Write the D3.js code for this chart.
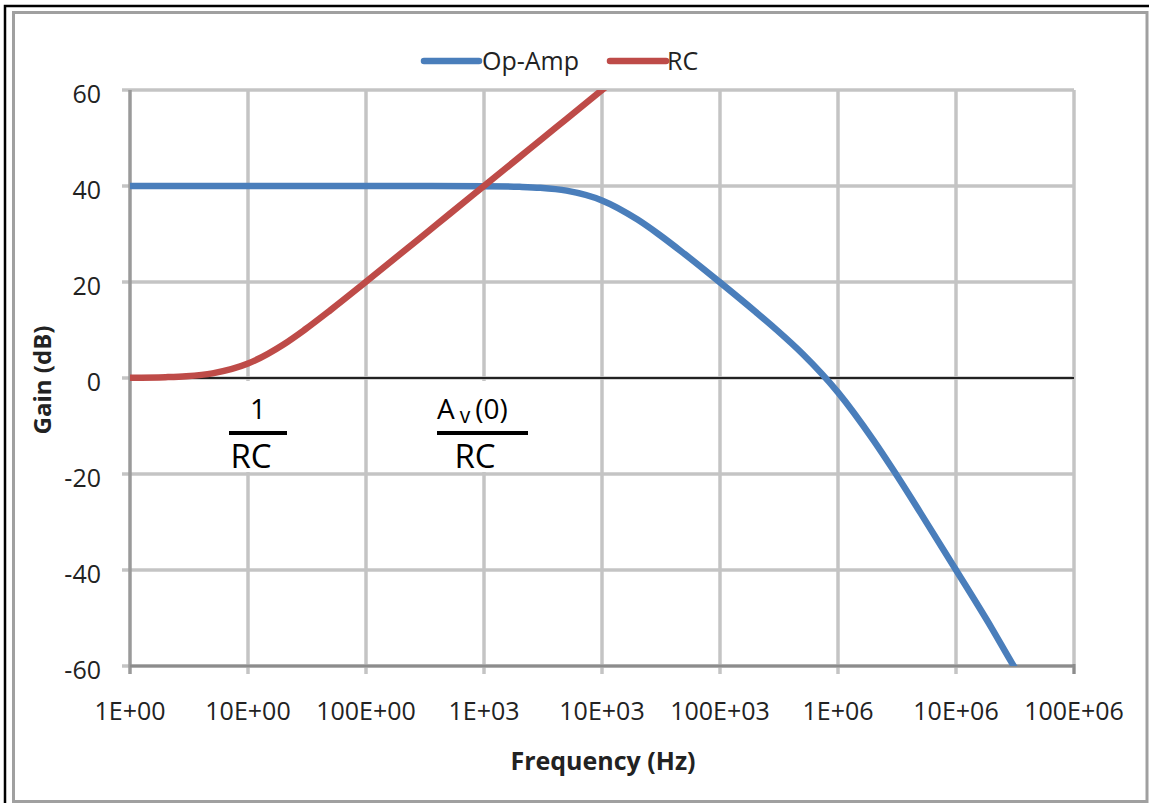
<!DOCTYPE html>
<html>
<head>
<meta charset="utf-8">
<script src="https://cdn.jsdelivr.net/npm/d3@7"></script>
<style>
  html, body { margin: 0; padding: 0; background: #fff; }
  svg { display: block; }
</style>
</head>
<body>
<script>
// ---- data ----
const seriesNames = ["Op-Amp", "RC"];
const opAmpFreq = [1, 10, 100, 1000, 2000, 3000, 5000, 1e4, 2e4, 3e4, 5e4, 1e5, 2e5, 3e5, 5e5, 1e6, 2e6, 3e6, 5e6, 1e7, 2e7, 3e7, 5e7];
const opAmpGain = [40, 40, 40, 39.96, 39.83, 39.63, 39.03, 36.99, 33.0, 30.0, 25.85, 19.92, 13.8, 10.08, 5.05, -3.0, -13.0, -19.5, -28.1, -40.0, -52.05, -59.5, -68.0];
const rcFreq = [1, 2, 3, 5, 10, 20, 30, 50, 100, 200, 300, 500, 1000, 2000, 3000, 5000, 1e4, 2e4];
const rcGain = [0.04, 0.17, 0.37, 0.97, 3.01, 6.99, 10.0, 14.15, 20.04, 26.03, 29.55, 33.98, 40.0, 46.02, 49.54, 53.98, 60.0, 66.02];
const xTickValues = [1, 10, 100, 1e3, 1e4, 1e5, 1e6, 1e7, 1e8];
const xTickLabels = ["1E+00", "10E+00", "100E+00", "1E+03", "10E+03", "100E+03", "1E+06", "10E+06", "100E+06"];
const yTickValues = [-60, -40, -20, 0, 20, 40, 60];
const xTitle = "Frequency (Hz)";
const yTitle = "Gain (dB)";

const colors = { "Op-Amp": "#4a7ebb", "RC": "#be4b48" };
const W = 1149, H = 803;
const plot = { left: 130, right: 1074, top: 90, bottom: 666 };
const font = "'Open Sans', 'Liberation Sans', sans-serif";

const svg = d3.select("body").append("svg").attr("width", W).attr("height", H);

// frame
svg.append("rect").attr("x", 13.5).attr("y", 12.5).attr("width", 1133.5).attr("height", 789)
  .attr("fill", "none").attr("stroke", "#a0a0a0").attr("stroke-width", 3);
svg.append("path").attr("d", `M5,${H} L5,6 L${W},6`).attr("fill", "none")
  .attr("stroke", "#000").attr("stroke-width", 2.5);

const x = d3.scaleLog().domain([1, 1e8]).range([plot.left, plot.right]);
const y = d3.scaleLinear().domain([-60, 60]).range([plot.bottom, plot.top]);

// gridlines
const g = svg.append("g");
g.selectAll(".vg").data(xTickValues.slice(1)).join("line")
  .attr("x1", d => x(d)).attr("x2", d => x(d))
  .attr("y1", plot.top).attr("y2", plot.bottom + 8)
  .attr("stroke", "#c4c4c4").attr("stroke-width", 3.5);
g.selectAll(".hg").data(yTickValues).join("line")
  .attr("x1", plot.left - 8).attr("x2", plot.right)
  .attr("y1", d => y(d)).attr("y2", d => y(d))
  .attr("stroke", "#c4c4c4").attr("stroke-width", 3.5);

// axes lines
svg.append("line").attr("x1", plot.left).attr("x2", plot.left)
  .attr("y1", plot.top).attr("y2", plot.bottom + 8)
  .attr("stroke", "#9a9a9a").attr("stroke-width", 3.5);
svg.append("line").attr("x1", plot.left).attr("x2", plot.right)
  .attr("y1", plot.bottom).attr("y2", plot.bottom)
  .attr("stroke", "#8c8c8c").attr("stroke-width", 3);
svg.append("line").attr("x1", plot.right).attr("x2", plot.right)
  .attr("y1", plot.bottom - 2).attr("y2", plot.bottom + 8)
  .attr("stroke", "#8c8c8c").attr("stroke-width", 3);

// zero line
svg.append("line").attr("x1", plot.left).attr("x2", plot.right)
  .attr("y1", y(0)).attr("y2", y(0))
  .attr("stroke", "#222").attr("stroke-width", 2);

// tick labels
svg.selectAll(".xl").data(xTickValues).join("text")
  .attr("x", d => x(d)).attr("y", 720)
  .attr("text-anchor", "middle")
  .attr("font-family", font).attr("font-size", 25).attr("fill", "#222")
  .text((d, i) => xTickLabels[i]);
svg.selectAll(".yl").data(yTickValues).join("text")
  .attr("x", 101).attr("y", d => y(d) + 13)
  .attr("text-anchor", "end")
  .attr("font-family", font).attr("font-size", 25).attr("fill", "#222")
  .text(d => d);

// axis titles
svg.append("text").attr("x", 603).attr("y", 770).attr("text-anchor", "middle")
  .attr("font-family", font).attr("font-weight", "bold").attr("font-size", 25).attr("fill", "#222")
  .text(xTitle);
svg.append("text").attr("transform", "translate(51,380) rotate(-90)").attr("text-anchor", "middle")
  .attr("font-family", font).attr("font-weight", "bold").attr("font-size", 24).attr("fill", "#222")
  .text(yTitle);

// clip
svg.append("clipPath").attr("id", "clip").append("rect")
  .attr("x", plot.left).attr("y", plot.top)
  .attr("width", plot.right - plot.left).attr("height", plot.bottom - plot.top);

const line = d3.line().x(d => x(d[0])).y(d => y(d[1])).curve(d3.curveMonotoneX);
const opData = opAmpFreq.map((f, i) => [f, opAmpGain[i]]);
const rcData = rcFreq.map((f, i) => [f, rcGain[i]]);

const lines = svg.append("g").attr("clip-path", "url(#clip)");
lines.append("path").datum(opData).attr("d", line)
  .attr("fill", "none").attr("stroke", colors["Op-Amp"]).attr("stroke-width", 6.5)
  .attr("stroke-linejoin", "round");
lines.append("path").datum(rcData).attr("d", line)
  .attr("fill", "none").attr("stroke", colors["RC"]).attr("stroke-width", 6.5)
  .attr("stroke-linejoin", "round");

// legend
const legend = [
  { name: seriesNames[0], x1: 424, x2: 479, tx: 482 },
  { name: seriesNames[1], x1: 610, x2: 666, tx: 667 }
];
legend.forEach(l => {
  svg.append("line").attr("x1", l.x1).attr("x2", l.x2).attr("y1", 61).attr("y2", 61)
    .attr("stroke", colors[l.name]).attr("stroke-width", 6.5).attr("stroke-linecap", "round");
  svg.append("text").attr("x", l.tx).attr("y", 70)
    .attr("font-family", font).attr("font-size", 25).attr("fill", "#222").text(l.name);
});

// annotations (fractions)
function fraction(x1, x2, rcx) {
  const a = svg.append("g");
  a.append("rect").attr("x", x1 - 1).attr("y", 381).attr("width", x2 - x1 + 2).attr("height", 91).attr("fill", "#fff");
  a.append("line").attr("x1", x1).attr("x2", x2).attr("y1", 433).attr("y2", 433)
    .attr("stroke", "#000").attr("stroke-width", 4);
  a.append("text").attr("x", rcx).attr("y", 468).attr("text-anchor", "middle")
    .attr("font-family", font).attr("font-size", 33).attr("fill", "#000").text("RC");
  return a;
}
const f1 = fraction(229, 287, 251);
f1.append("text").attr("x", 258).attr("y", 419).attr("text-anchor", "middle")
  .attr("font-family", font).attr("font-size", 28).attr("fill", "#000").text("1");
const f2 = fraction(437, 528, 475);
const num = f2.append("text").attr("x", 437).attr("y", 419)
  .attr("font-family", font).attr("font-size", 28).attr("fill", "#000");
num.append("tspan").text("A");
num.append("tspan").attr("dx", 5).attr("dy", 4).attr("font-size", 21).text("v");
num.append("tspan").attr("dx", 5).attr("dy", -4).text("(0)");
</script>
</body>
</html>
